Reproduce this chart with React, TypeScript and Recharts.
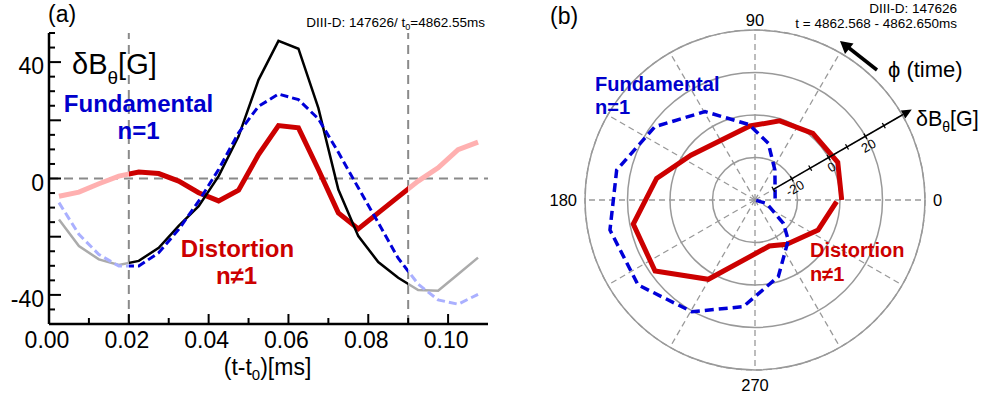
import React from "react";
import {
  LineChart,
  Line,
  XAxis,
  YAxis,
  ReferenceLine,
  RadarChart,
  Radar,
  PolarGrid,
  PolarAngleAxis,
  PolarRadiusAxis,
} from "recharts";

const FONT = "'Liberation Sans', Arial, Helvetica, sans-serif";

// (a) probe signal vs time, one sample every 0.005 ms
const TIME = [
  0.0025, 0.0075, 0.0125, 0.0175, 0.0225, 0.0275, 0.0325, 0.0375, 0.0425, 0.0475, 0.0525,
  0.0575, 0.0625, 0.0675, 0.0725, 0.0775, 0.0825, 0.0875, 0.0925, 0.0975, 0.1025, 0.1075,
];
const TOTAL = [
  -14.1, -23.2, -27.8, -29.7, -28.3, -23.8, -16.3, -9.5, 0.8, 14.5, 33.9, 47.3, 44.6, 24.2,
  -3.8, -19.8, -28.7, -34.1, -38.3, -38.6, -32.9, -27.2,
];
const FUNDAMENTAL = [
  -8.3, -19.2, -26.1, -30.1, -30.1, -25.5, -17.5, -7.8, 3.1, 15.7, 24.8, 29.0, 27.1, 20.5, 9.0,
  -3.2, -15.2, -27.4, -36.3, -41.7, -43.2, -39.8,
];
const DISTORTION = [
  -6.1, -4.7, -1.8, 0.8, 2.2, 1.7, -0.9, -4.9, -7.7, -4.0, 8.2, 18.2, 17.4, 3.1, -11.8, -17.3,
  -11.8, -6.3, -0.9, 3.7, 9.9, 12.5,
];
// one period used for the polar plot
const WINDOW = [0.02, 0.09];

const X_TICKS = [0, 0.01, 0.02, 0.03, 0.04, 0.05, 0.06, 0.07, 0.08, 0.09, 0.1];
const Y_TICKS = [
  -50, -45, -40, -35, -30, -25, -20, -15, -10, -5, 0, 5, 10, 15, 20, 25, 30, 35, 40, 45, 50,
];
const Y_LABELS = [-40, 0, 40];

// (b) same period on a polar plot, phase in degrees
const DIST_PHI = [0, 24.5, 49, 72.7, 94, 145, 167.6, 191.2, 215.4, 239.5, 287.3, 305.6, 334.6, 358.8];
const DIST_POLAR = [0.8, 2.8, 1.5, -1.0, -5.1, -3.2, 7.4, 18.4, 17.7, 3.3, -17.3, -14.4, -7.1, -1.6];
const FUND_PHI = [4.3, 56.3, 76.8, 94.5, 119.5, 143.8, 167.8, 191.7, 216, 240.5, 263.7, 286.9, 309.8, 320.5, 343, 355];
const FUND_POLAR = [-30.5, -23.1, -12.6, -4.4, 7.8, 18.4, 26.6, 29.7, 28, 20.4, 10.5, -2.3, -15.5, -22.7, -34.2, -40];

const PHI_LABELS = [0, 90, 180, 270];
const PHI_GRID = [0, 30, 60, 90, 120, 150, 180, 210, 240, 270, 300, 330];
const R_DOMAIN = [-40, 40];
const R_RINGS = [-20, 0, 20, 40];
const R_TICKS = [-30, -20, -10, 0, 10, 20, 30, 40];
const R_LABELS = [-20, 0, 20];

const OUTER = 170;

const traceRows = TIME.map((t, i) => ({
  t,
  total: TOTAL[i],
  fund: FUNDAMENTAL[i],
  dist: DISTORTION[i],
}));
const distRows = DIST_PHI.map((phi, i) => ({ phi, v: DIST_POLAR[i] }));
const fundRows = FUND_PHI.map((phi, i) => ({ phi, v: FUND_POLAR[i] }));

// gradient stops so each trace is faded outside the analysed window
const span = TIME[TIME.length - 1] - TIME[0];
const cutA = (WINDOW[0] - TIME[0]) / span;
const cutB = (WINDOW[1] - TIME[0]) / span;

const STROKES: [string, string, string][] = [
  ["distStroke", "#cc0000", "#ffb0b0"],
  ["totalStroke", "#000000", "#ababab"],
  ["fundStroke", "#0000d8", "#aab0ff"],
];

const ringRadius = (v: number) => ((v - R_DOMAIN[0]) / (R_DOMAIN[1] - R_DOMAIN[0])) * OUTER;

const BottomTick = (p: any) => {
  const v = p.payload.value as number;
  const major = Math.round(v * 100) % 2 === 0;
  return (
    <g>
      <line x1={p.x} x2={p.x} y1={p.y} y2={p.y - (major ? 10 : 6)} stroke="#000" strokeWidth={2} />
      {major && (
        <text x={p.x - 2} y={p.y + 24} textAnchor="middle" fontSize={23} fontFamily={FONT} fill="#000">
          {v.toFixed(2)}
        </text>
      )}
    </g>
  );
};

const TopTick = (p: any) => {
  const v = p.payload.value as number;
  const major = Math.round(v * 100) % 2 === 0;
  return <line x1={p.x} x2={p.x} y1={p.y} y2={p.y + (major ? 10 : 6)} stroke="#000" strokeWidth={2} />;
};

const LeftTick = (p: any) => {
  const v = p.payload.value as number;
  const major = v % 20 === 0;
  return (
    <g>
      <line x1={p.x} x2={p.x + (major ? 12 : 6)} y1={p.y} y2={p.y} stroke="#000" strokeWidth={2} />
      {Y_LABELS.includes(v) && (
        <text x={p.x - 5} y={p.y + 12} textAnchor="end" fontSize={23} fontFamily={FONT} fill="#000">
          {v}
        </text>
      )}
    </g>
  );
};

const RightTick = (p: any) => {
  const v = p.payload.value as number;
  const major = v % 20 === 0;
  return <line x1={p.x} x2={p.x - (major ? 12 : 6)} y1={p.y} y2={p.y} stroke="#000" strokeWidth={2} />;
};

const AngleTick = (p: any) => {
  const v = p.payload.value as number;
  if (v >= 360) return null;
  const dy = v === 90 ? -2 : v === 270 ? 7 : 0;
  return (
    <text
      x={p.x}
      y={p.y + dy}
      textAnchor={p.textAnchor}
      dominantBaseline="central"
      fontSize={16.5}
      fontFamily={FONT}
      fill="#000"
    >
      {v}
    </text>
  );
};

// radial axis sits at 30 deg: small cross ticks, rotated labels, arrow past the rim
const RadiusTick = (p: any) => {
  const v = p.payload.value as number;
  const c = Math.cos(Math.PI / 6);
  const s = Math.sin(Math.PI / 6);
  if (v === R_DOMAIN[1]) {
    const tip = { x: p.x + 11 * c, y: p.y - 11 * s };
    const base = { x: tip.x - 10 * c, y: tip.y + 10 * s };
    return (
      <g>
        <line x1={p.x} y1={p.y} x2={base.x} y2={base.y} stroke="#000" strokeWidth={1.5} />
        <polygon
          points={`${tip.x},${tip.y} ${base.x - 4.5 * s},${base.y - 4.5 * c} ${base.x + 4.5 * s},${base.y + 4.5 * c}`}
          fill="#000"
        />
      </g>
    );
  }
  const lx = p.x + 3;
  const ly = p.y + 9.5;
  return (
    <g>
      <line x1={p.x - 3 * s} y1={p.y - 3 * c} x2={p.x + 3 * s} y2={p.y + 3 * c} stroke="#000" strokeWidth={1.3} />
      {R_LABELS.includes(v) && (
        <text
          x={lx}
          y={ly}
          textAnchor="middle"
          dominantBaseline="central"
          fontSize={13}
          fontFamily={FONT}
          fill="#000"
          transform={`rotate(-30, ${lx}, ${ly})`}
        >
          {v}
        </text>
      )}
    </g>
  );
};

// polar traces are one period, so leave the path open
const OpenTrace = (p: any) => {
  const pts = (p.points || []) as { x: number; y: number }[];
  const d = pts.map((q, i) => `${i ? "L" : "M"}${q.x},${q.y}`).join(" ");
  return (
    <path
      d={d}
      fill="none"
      stroke={p.stroke}
      strokeWidth={p.strokeWidth}
      strokeDasharray={p.strokeDasharray}
      strokeLinejoin="miter"
    />
  );
};

const gridDash = { stroke: "#8a8a8a", strokeWidth: 2, strokeDasharray: "9 6" };

// polar panel geometry (chart box placed so the pole lands at x = 755)
const POLAR_LEFT = 515;
const POLAR_W = 440;
const POLAR_CX = 240;
const POLAR_CY = 200;

export default function App() {
  return (
    <div style={{ position: "absolute", left: 0, top: 0, width: 988, height: 395, background: "#fff", fontFamily: FONT }}>
      <svg width={0} height={0} style={{ position: "absolute" }}>
        <defs>
          {STROKES.map(([id, c, faded]) => (
            <linearGradient key={id} id={id} x1="0" y1="0" x2="1" y2="0">
              <stop offset={0} stopColor={faded} />
              <stop offset={cutA} stopColor={faded} />
              <stop offset={cutA} stopColor={c} />
              <stop offset={cutB} stopColor={c} />
              <stop offset={cutB} stopColor={faded} />
              <stop offset={1} stopColor={faded} />
            </linearGradient>
          ))}
        </defs>
      </svg>

      <div style={{ position: "absolute", left: 0, top: 0 }}>
        <LineChart width={500} height={395} data={traceRows} margin={{ top: 33, right: 12, bottom: 41, left: 0 }}>
          <XAxis
            dataKey="t"
            type="number"
            domain={[0, 0.11]}
            ticks={X_TICKS}
            interval={0}
            height={30}
            tickSize={0}
            tickMargin={0}
            tickLine={false}
            tick={BottomTick}
            axisLine={{ stroke: "#000", strokeWidth: 2.5 }}
          />
          <XAxis
            xAxisId="top"
            orientation="top"
            dataKey="t"
            type="number"
            domain={[0, 0.11]}
            ticks={X_TICKS}
            interval={0}
            height={0}
            tickSize={0}
            tickMargin={0}
            tickLine={false}
            tick={TopTick}
            axisLine={{ stroke: "#000", strokeWidth: 2.5 }}
          />
          <YAxis
            type="number"
            domain={[-50, 50]}
            ticks={Y_TICKS}
            interval={0}
            width={49}
            tickSize={0}
            tickMargin={0}
            tickLine={false}
            tick={LeftTick}
            axisLine={{ stroke: "#000", strokeWidth: 2.5 }}
          />
          <YAxis
            yAxisId="right"
            orientation="right"
            type="number"
            domain={[-50, 50]}
            ticks={Y_TICKS}
            interval={0}
            width={0}
            tickSize={0}
            tickMargin={0}
            tickLine={false}
            tick={RightTick}
            axisLine={{ stroke: "#000", strokeWidth: 2.5 }}
          />
          <ReferenceLine y={0} {...gridDash} />
          <ReferenceLine x={WINDOW[0]} {...gridDash} />
          <ReferenceLine x={WINDOW[1]} {...gridDash} />
          <Line
            dataKey="dist"
            type="linear"
            stroke="url(#distStroke)"
            strokeWidth={5}
            dot={false}
            activeDot={false}
            isAnimationActive={false}
          />
          <Line
            dataKey="total"
            type="linear"
            stroke="url(#totalStroke)"
            strokeWidth={2.5}
            dot={false}
            activeDot={false}
            isAnimationActive={false}
          />
          <Line
            dataKey="fund"
            type="linear"
            stroke="url(#fundStroke)"
            strokeWidth={3}
            strokeDasharray="8 4"
            dot={false}
            activeDot={false}
            isAnimationActive={false}
          />
        </LineChart>
      </div>

      {/* bottom layer of (b): grid, phase labels and the distortion trace */}
      <div style={{ position: "absolute", left: POLAR_LEFT, top: 0 }}>
        <RadarChart
          width={POLAR_W}
          height={395}
          cx={POLAR_CX}
          cy={POLAR_CY}
          innerRadius={0}
          outerRadius={OUTER}
          startAngle={0}
          endAngle={360}
          data={distRows}
          margin={{ top: 0, right: 0, bottom: 0, left: 0 }}
        >
          <PolarGrid
            gridType="circle"
            polarAngles={PHI_GRID}
            polarRadius={[OUTER]}
            stroke="#999"
            strokeWidth={1.3}
            strokeDasharray="6 4"
          />
          <PolarGrid
            gridType="circle"
            radialLines={false}
            polarRadius={R_RINGS.map(ringRadius)}
            stroke="#999"
            strokeWidth={1.5}
          />
          <PolarAngleAxis
            dataKey="phi"
            type="number"
            domain={[0, 360]}
            ticks={PHI_LABELS}
            tick={AngleTick}
            axisLine={false}
            tickLine={false}
          />
          <PolarRadiusAxis type="number" domain={R_DOMAIN} angle={30} axisLine={false} tick={false} />
          <Radar
            dataKey="v"
            stroke="#cc0000"
            strokeWidth={5}
            fill="none"
            fillOpacity={0}
            isAnimationActive={false}
            shape={OpenTrace}
          />
        </RadarChart>
      </div>

      {/* top layer of (b): fundamental trace and the field axis */}
      <div style={{ position: "absolute", left: POLAR_LEFT, top: 0 }}>
        <RadarChart
          width={POLAR_W}
          height={395}
          cx={POLAR_CX}
          cy={POLAR_CY}
          innerRadius={0}
          outerRadius={OUTER}
          startAngle={0}
          endAngle={360}
          data={fundRows}
          margin={{ top: 0, right: 0, bottom: 0, left: 0 }}
        >
          <PolarAngleAxis dataKey="phi" type="number" domain={[0, 360]} tick={false} axisLine={false} tickLine={false} />
          <Radar
            dataKey="v"
            stroke="#0000d8"
            strokeWidth={3.5}
            strokeDasharray="9 5"
            fill="none"
            fillOpacity={0}
            isAnimationActive={false}
            shape={OpenTrace}
          />
          <PolarRadiusAxis
            type="number"
            domain={R_DOMAIN}
            angle={30}
            ticks={R_TICKS}
            tick={RadiusTick}
            axisLine={{ stroke: "#000", strokeWidth: 1.5 }}
          />
        </RadarChart>
      </div>

      <svg
        width={988}
        height={395}
        style={{ position: "absolute", left: 0, top: 0, pointerEvents: "none" }}
        fontFamily={FONT}
      >
        {/* panel (a) annotations */}
        <text x={48} y={22} fontSize={23} fill="#000">(a)</text>
        <text x={485} y={27} fontSize={13.5} textAnchor="end" fill="#000">
          DIII-D: 147626/ t<tspan fontSize={9} dy={3}>0</tspan>
          <tspan dy={-3}>=4862.55ms</tspan>
        </text>
        <text x={72} y={73.5} fontSize={29} fill="#000">
          δB<tspan fontSize={19} dy={10}>θ</tspan>
          <tspan dy={-10}>[G]</tspan>
        </text>
        <text x={138.5} y={111.5} fontSize={24} fontWeight="bold" textAnchor="middle" fill="#0000cc">Fundamental</text>
        <text x={138.5} y={138.5} fontSize={24} fontWeight="bold" textAnchor="middle" fill="#0000cc">n=1</text>
        <text x={237.5} y={257} fontSize={24} fontWeight="bold" textAnchor="middle" fill="#cc0000">Distortion</text>
        <text x={236.5} y={283.5} fontSize={24} fontWeight="bold" textAnchor="middle" fill="#cc0000">n≠1</text>
        <text x={267.5} y={375} fontSize={23} textAnchor="middle" fill="#000">
          (t-t<tspan fontSize={15} dy={5}>0</tspan>
          <tspan dy={-5}>)[ms]</tspan>
        </text>

        {/* panel (b) annotations */}
        <text x={550} y={24} fontSize={23} fill="#000">(b)</text>
        <text x={957} y={12.5} fontSize={13.5} textAnchor="end" fill="#000">DIII-D: 147626</text>
        <text x={957} y={27.5} fontSize={13.5} textAnchor="end" fill="#000">t = 4862.568 - 4862.650ms</text>
        <text x={595} y={90.5} fontSize={20} fontWeight="bold" fill="#0000cc">Fundamental</text>
        <text x={595} y={114} fontSize={20} fontWeight="bold" fill="#0000cc">n=1</text>
        <text x={810} y={256.5} fontSize={20} fontWeight="bold" fill="#cc0000">Distortion</text>
        <text x={810} y={280.5} fontSize={20} fontWeight="bold" fill="#cc0000">n≠1</text>
        <text x={888} y={77} fontSize={22} fill="#000">ϕ (time)</text>
        <line x1={877} y1={70} x2={849} y2={48} stroke="#000" strokeWidth={3.5} />
        <polygon points="840,41 853.5,43.5 845,54" fill="#000" />
        <text x={916} y={125.5} fontSize={21.5} fill="#000">
          δB<tspan fontSize={14} dy={6}>θ</tspan>
          <tspan dy={-6}>[G]</tspan>
        </text>
      </svg>
    </div>
  );
}
